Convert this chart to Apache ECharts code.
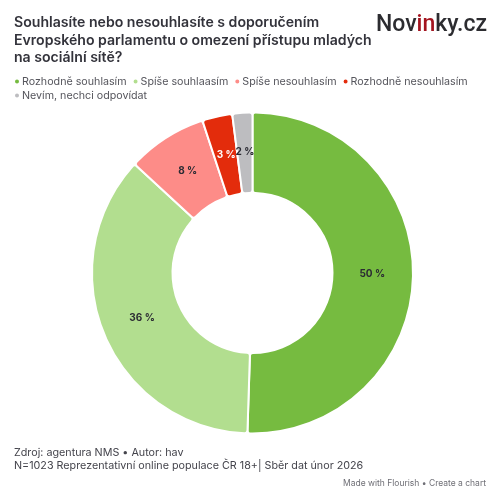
<!DOCTYPE html>
<html><head><meta charset="utf-8">
<style>html,body{margin:0;padding:0;background:#fff}#c{width:500px;height:497px}</style>
<script src="https://cdn.jsdelivr.net/npm/echarts@6/dist/echarts.min.js"></script></head>
<body><div id="c"></div>
<script>
const categories = ["Rozhodně souhlasím","Spíše souhlaasím","Spíše nesouhlasím","Rozhodně nesouhlasím","Nevím, nechci odpovídat"];
const values = [50,36,8,3,2];
const colors = ["#76bb40","#b2de8f","#fd8c88","#e32c0c","#bdbdc0"];
const labelColors = ["#2b2b33","#2b2b33","#2b2b33","#ffffff","#2b2b33"];
const titleText = "Souhlasíte nebo nesouhlasíte s doporučením\nEvropského parlamentu o omezení přístupu mladých\nna sociální sítě?";
const sourceText = "Zdroj: agentura NMS • Autor: hav\nN=1023 Reprezentativní online populace ČR 18+| Sběr dat únor 2026";
const creditText = "Made with Flourish • Create a chart";
const cx = 252.5, cy = 273;
const legendBase = {
  padding:0,icon:'circle',itemWidth:6,itemHeight:6,itemGap:5,selectedMode:false,
  textStyle:{fontFamily:'Inter',fontSize:10.7,color:'#55555c',padding:[0,0,0,-3]}
};
const chart = echarts.init(document.getElementById('c'),null,{renderer:'canvas'});
chart.setOption({
  animation:false,
  backgroundColor:'#fff',
  title:[
    {text:titleText,left:14,top:14,padding:0,textStyle:{fontFamily:'Inter',fontSize:14.1,fontWeight:600,color:'#33333b',lineHeight:17.5}},
    {text:'{a|Nov}{b|in}{a|ky.cz}',left:376,top:14,padding:0,textStyle:{rich:{
      a:{fontFamily:'Roboto',fontSize:23,fontWeight:500,color:'#2c2c30'},
      b:{fontFamily:'Roboto',fontSize:23,fontWeight:500,color:'#a3141f'}}}},
    {text:sourceText,left:14,top:446,padding:0,textStyle:{fontFamily:'Inter',fontSize:10.75,fontWeight:400,color:'#44444c',lineHeight:13.5}},
    {text:creditText,right:14,top:479,padding:0,textStyle:{fontFamily:'Inter',fontSize:8.5,fontWeight:400,color:'#6f6f76'}}
  ],
  legend:[
    Object.assign({},legendBase,{left:13,top:76,data:categories.slice(0,4)}),
    Object.assign({},legendBase,{left:13,top:90,data:categories.slice(4)})
  ],
  series:[{
    type:'pie',center:[cx,cy],radius:[80,160.5],startAngle:90,clockwise:true,
    avoidLabelOverlap:false,
    itemStyle:{borderColor:'#fff',borderWidth:2,borderRadius:3},
    label:{position:'inside',fontFamily:'Inter',fontSize:10,fontWeight:700,formatter:p=>p.value+' %'},
    labelLine:{show:false},
    labelLayout:function(p){
      const r=p.labelRect, x=r.x+r.width/2-cx, y=r.y+r.height/2-cy, d=Math.hypot(x,y);
      return {dx:-3.5*x/d, dy:-3.5*y/d-1};
    },
    emphasis:{disabled:true},
    data:categories.map((name,i)=>({name,value:values[i],itemStyle:{color:colors[i]},label:{color:labelColors[i]}}))
  }],
  color:colors
});
</script></body></html>
